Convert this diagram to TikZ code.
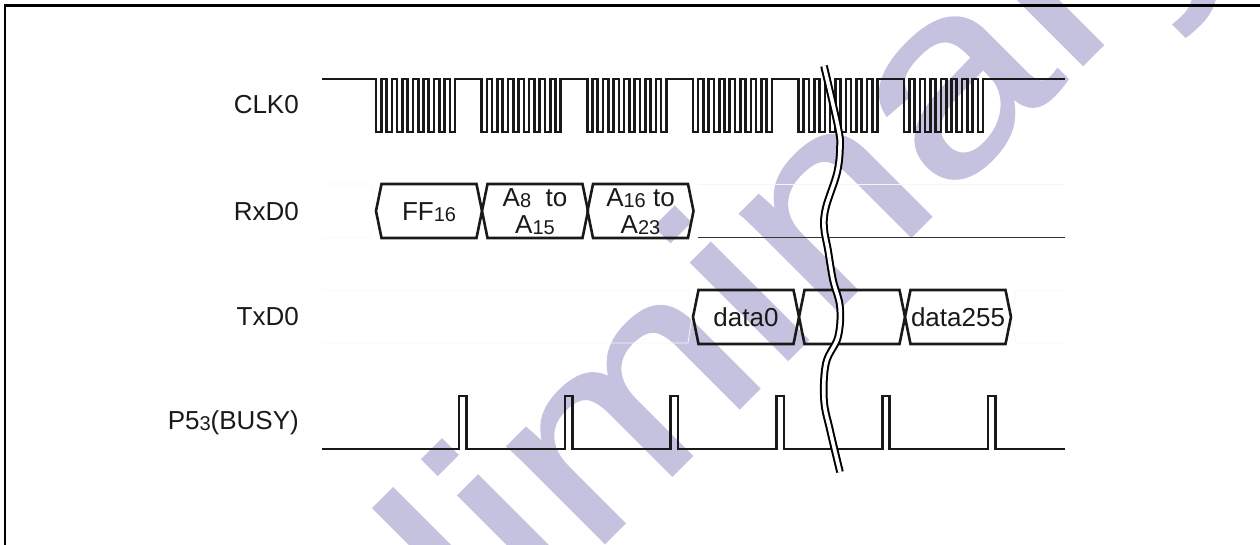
\documentclass[tikz,border=0pt]{standalone}
\usepackage{fontspec}
\setmainfont{Liberation Sans}
\newfontfamily\stampfont[RawFeature={embolden=0.8}]{Liberation Sans}
\definecolor{stampblue}{RGB}{197,194,224}
\definecolor{faintgray}{RGB}{246,246,246}
\newcommand{\lowsub}[1]{\raisebox{-.7pt}{\fontsize{20}{20}\selectfont #1}}
\begin{document}
\begin{tikzpicture}[
  x=1pt,y=-1pt,
  font=\fontsize{26}{27}\selectfont,
  wave/.style={black!90,line width=2.6pt},
  faint/.style={faintgray,line width=.8pt},
  sig/.style={anchor=east,text=black!90,inner sep=0pt},
  cell/.style={align=center,text=black!90,inner sep=0pt}
]
\useasboundingbox (0,0) rectangle (1260,545);
% watermark behind everything
\begin{scope}
\clip (0,0) rectangle (1260,545);
\node[rotate=45,xscale=1.2,transform shape,anchor=base west,text=stampblue,font=\stampfont\fontsize{260}{260}\selectfont,inner sep=0pt] (stamp) at (148.5,999.5) {Preliminary};
\end{scope}
% frame
\draw[black,line width=2.4pt] (5,545) -- (5,5.5) -- (1260,5.5);
% signal names
\node[sig] (clk) at (299,105) {CLK0};
\node[sig] (rxd) at (299,212) {RxD0};
\node[sig] (txd) at (299,317) {TxD0};
\node[sig] (busy) at (299,423) {P5\lowsub{3}(BUSY)};
% faint guide lines
\draw[faint] (322,184) -- (371,184) -- (376,211) -- (371,238) -- (322,238);
\draw[faint] (698,184) -- (1065,184);
\draw[faint] (322,290) -- (688,290) -- (692,317) -- (688,343) -- (322,343);
\draw[faint] (1065,290) -- (1016,290) -- (1011,317) -- (1016,343) -- (1065,343);
% clock
\draw[wave] (322,79) -- (376,79)
  \foreach \g in {0,...,5}{
    \foreach \c in {0,...,7}{
      -- ({376+105.6*\g+10.55*\c},79) -- ({376+105.6*\g+10.55*\c},132)
      -- ({381.3+105.6*\g+10.55*\c},132) -- ({381.3+105.6*\g+10.55*\c},79)
    }
  } -- (1065,79);
% data cells
\foreach \x/\name/\txt in {376/ff/{FF\lowsub{16}},482/lo/{A\lowsub{8}\ \ to\\A\lowsub{15}},587.5/hi/{A\lowsub{16} to\\A\lowsub{23}}}{
  \draw[wave,line join=miter] (\x,211) -- ++(5.5,-27) -- ++(95,0) -- ++(5.5,27) -- ++(-5.5,27) -- ++(-95,0) -- cycle;
  \node[cell] (\name) at ({\x+53},212) {\txt};
}
\foreach \x/\name/\txt in {693/dfirst/data0,799/dmid/{},905/dlast/data255}{
  \draw[wave,line join=miter] (\x,317) -- ++(5.5,-27) -- ++(95,0) -- ++(5.5,27) -- ++(-5.5,27) -- ++(-95,0) -- cycle;
  \node[cell] (\name) at ({\x+53},317) {\txt};
}
\draw[black!80,line width=1pt] (698,238) -- (1065,238);
% busy pulses
\draw[wave] (322,449) \foreach \x in {459,564.8,670.6,776.4,882.2,988}{
  -- (\x,449) -- (\x,396) -- ({\x+7.5},396) -- ({\x+7.5},449) } -- (1065,449);
% break mark
\draw[black,line width=2pt,double=white,double distance=3.6pt]
  plot[smooth,tension=.6] coordinates {(824,66) (838,127) (840,147) (837,173) (826,207) (824,227) (828,250)
    (833,280) (840,307) (838,337) (826,363) (824,400) (830,430) (840,472)};
\end{tikzpicture}
\end{document}
